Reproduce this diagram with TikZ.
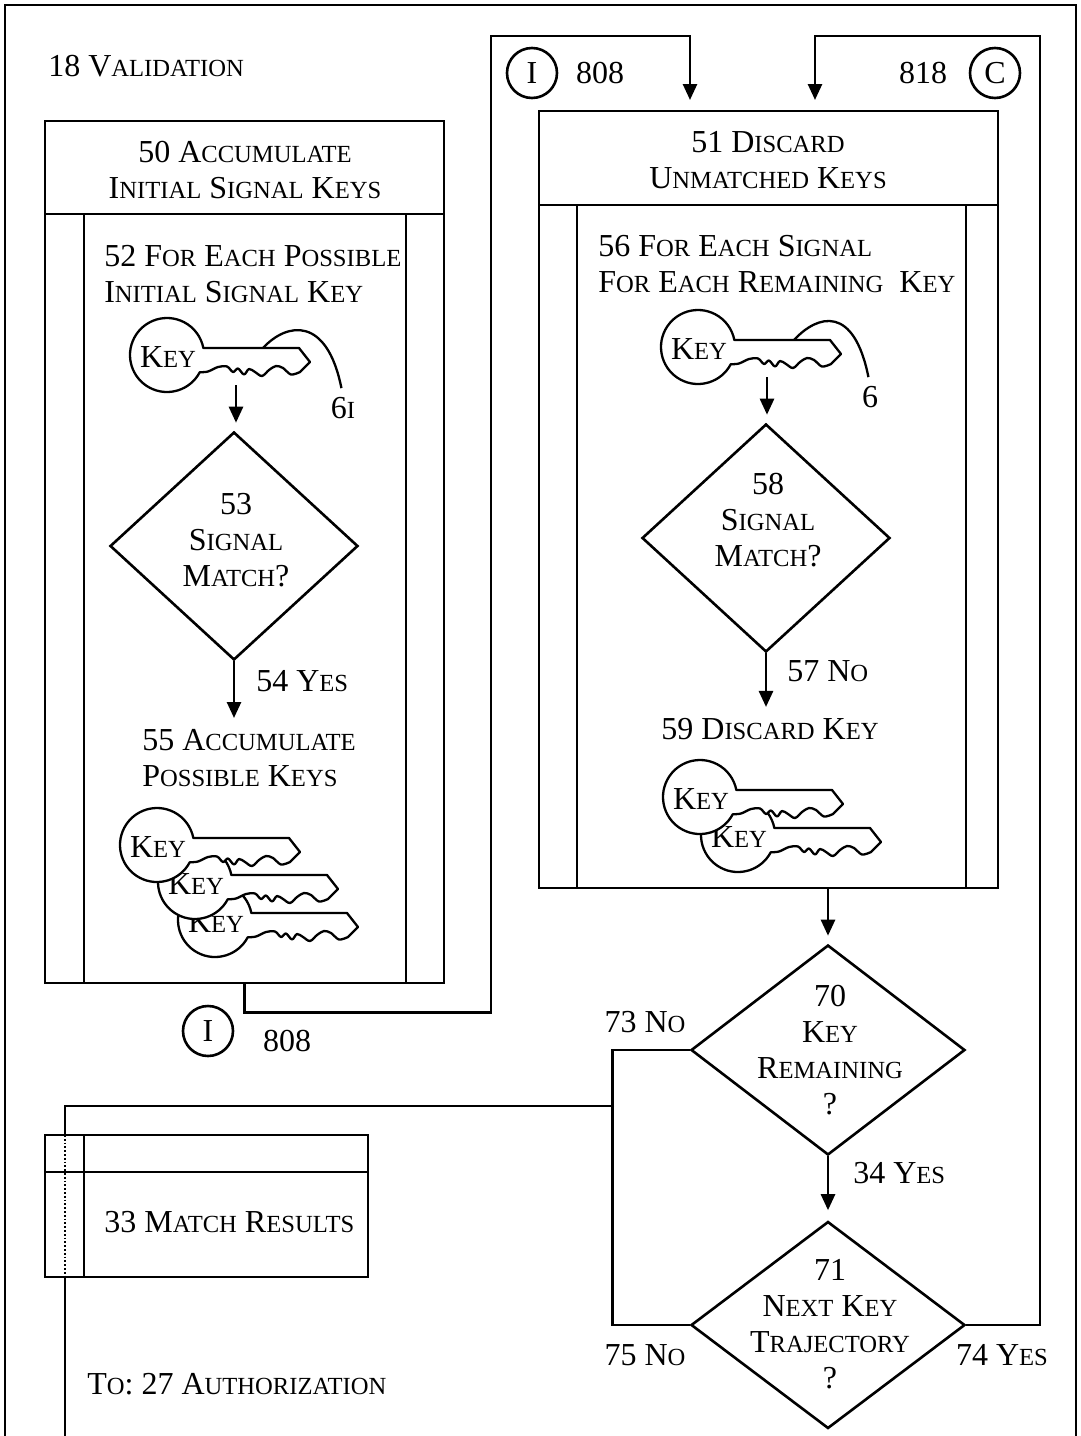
\documentclass[tikz,border=0pt]{standalone}
\usepackage{fontspec}
\setmainfont{Liberation Serif}
\usetikzlibrary{shapes.geometric,arrows.meta}
\newcommand\smc[1]{{\fontsize{12.3pt}{18pt}\selectfont #1}}
\tikzset{
 keyicon/.pic={
  \draw[fill=white, line width=1.15pt, line join=round] (36.33,-7) -- (132,-7) -- (143,7) -- (133,17)
   -- plot[smooth, tension=0.55] coordinates {(133,17) (124,19.5) (116,13) (109,11) (102,15) (95,21) (88,17) (82,14) (77,19.5) (71,13.5) (66,17) (60,11.5) (51,12) (41,16.5) (32.73,17.26)}
   arc[start angle=-27.8, end angle=-349.1, radius=18.5pt] -- cycle;
  \node (-t) at (1,2) {K\smc{EY}};
  \coordinate (-bot) at (69,30);
  \coordinate (-lead) at (96,-7);
 }
}
\begin{document}
\begin{tikzpicture}[x=0.5pt,y=-0.5pt, line width=1.3pt,
 font=\fontsize{16pt}{18pt}\selectfont,
 every node/.style={inner sep=0pt},
 box/.style={draw, rectangle, inner sep=0pt},
 dia/.style={draw, diamond, inner sep=0pt},
 conn/.style={draw, circle, minimum size=25pt, inner sep=0pt},
 arr/.style={-{Triangle[length=8pt,width=7pt]}},
]
\useasboundingbox (0,0) rectangle (1081,1436);
\draw (5,1436) -- (5,5) -- (1076,5) -- (1076,1436);

\node[anchor=west] (title) at (47,66) {18 V\smc{ALIDATION}};

% box 50
\node[box, minimum width=199.5pt, minimum height=431pt] (b50) at (244.5,552) {};
\draw (45,214) -- (444,214);
\draw (84,214) -- (84,983);
\draw (406,214) -- (406,983);
\node[align=center] (t50) at (245,170) {50 A\smc{CCUMULATE}\\I\smc{NITIAL} S\smc{IGNAL} K\smc{EYS}};
\node[align=left, anchor=north west] (t52) at (103,244) {52 F\smc{OR} E\smc{ACH} P\smc{OSSIBLE}\\I\smc{NITIAL} S\smc{IGNAL} K\smc{EY}};
\pic (k52) at (167,355) {keyicon};
\node (l52) at (343,408) {6\smc{I}};
\draw[line width=1.15pt, shorten >=4pt] (k52-lead) .. controls +(24,-26) and +(-16,-80) .. (l52.north);
\node[dia, minimum width=124pt, minimum height=114pt] (d53) at (234,546) {};
\node[align=center] (t53) at (236,540) {53\\S\smc{IGNAL}\\M\smc{ATCH}?};
\draw[arr, shorten >=4pt] (k52-bot) -- (k52-bot |- d53.north);
\node[align=left, anchor=north west] (t55) at (141,728) {55 A\smc{CCUMULATE}\\P\smc{OSSIBLE} K\smc{EYS}};
\draw[arr, shorten >=5pt] (d53.south) -- (d53.south |- t55.north);
\node[anchor=west] (y54) at (255,681) {54 Y\smc{ES}};
\pic (k55c) at (215,920) {keyicon};
\pic (k55b) at (195,882) {keyicon};
\pic (k55a) at (157,845) {keyicon};

% box 51
\node[box, minimum width=229.5pt, minimum height=388.5pt] (b51) at (768.5,499.5) {};
\draw (539,205) -- (998,205);
\draw (577,205) -- (577,888);
\draw (966,205) -- (966,888);
\node[align=center] (t51) at (768,160) {51 D\smc{ISCARD}\\U\smc{NMATCHED} K\smc{EYS}};
\node[align=left, anchor=north west] (t56) at (597,234) {56 F\smc{OR} E\smc{ACH} S\smc{IGNAL}\\F\smc{OR} E\smc{ACH} R\smc{EMAINING}\ \ K\smc{EY}};
\pic (k56) at (698,347) {keyicon};
\node (l56) at (870,397) {6};
\draw[line width=1.15pt, shorten >=4pt] (k56-lead) .. controls +(24,-26) and +(-16,-80) .. (l56.north);
\node[dia, minimum width=124pt, minimum height=114pt] (d58) at (766,538) {};
\node[align=center] (t58) at (768,520) {58\\S\smc{IGNAL}\\M\smc{ATCH}?};
\draw[arr, shorten >=4pt] (k56-bot) -- (k56-bot |- d58.north);
\node (t59) at (770,729) {59 D\smc{ISCARD} K\smc{EY}};
\draw[arr, shorten >=5pt] (d58.south) -- (d58.south |- t59.north);
\node[anchor=west] (n57) at (786,671) {57 N\smc{O}};
\pic (k59b) at (738,835) {keyicon};
\pic (k59a) at (700,797) {keyicon};

% connectors top
\node[conn] (cI1) at (532,73) {I};
\node (n808a) at (600,73) {808};
\node[conn] (cC) at (995,73) {C};
\node (n818) at (923,73) {818};
\coordinate (a808) at (690,100);
\coordinate (a818) at (815,100);
\node[conn] (cI2) at (208,1031) {I};
\node (n808b) at (287,1041) {808};
\draw[arr] (b50.south) -- ++(0,28) -| (491,36) -| (a808);

% decisions
\node[dia, minimum width=137pt, minimum height=105pt] (d70) at (828,1050) {};
\node[align=center] (t70) at (830,1050) {70\\K\smc{EY}\\R\smc{EMAINING}\\?};
\node[dia, minimum width=137pt, minimum height=103.5pt] (d71) at (828,1325) {};
\node[align=center] (t71) at (830,1324) {71\\N\smc{EXT} K\smc{EY}\\T\smc{RAJECTORY}\\?};
\draw[arr, shorten >=4pt] (b51.south -| d70.north) -- (d70.north);
\draw[arr, shorten >=5pt] (d70.south) -- (d71.north);
\node[anchor=west] (n34) at (852,1173) {34 Y\smc{ES}};
\draw (d70.west) -- ++(-77,0) coordinate (jt) |- (d71.west);
\draw[arr] (d71.east) -| (1040,36) -| (a818);
\node (n73) at (645,1022) {73 N\smc{O}};
\node (n75) at (645,1355) {75 N\smc{O}};
\node (n74) at (1002,1355) {74 Y\smc{ES}};

% box 33
\node[box, minimum width=161.5pt, minimum height=71pt] (b33) at (206.5,1206) {};
\draw (45,1172) -- (368,1172);
\draw (84,1135) -- (84,1277);
\node[anchor=west] (t33) at (103,1222) {33 M\smc{ATCH} R\smc{ESULTS}};
\coordinate (j) at (614,1106);
\coordinate (p1) at (65,1106);
\coordinate (p2) at (65,1135);
\coordinate (p3) at (65,1277);
\coordinate (p4) at (65,1436);
\draw (j) -- (p1) -- (p2);
\draw[densely dotted, line width=0.9pt] (p2) -- (p3);
\draw (p3) -- (p4);
\node[anchor=west] (t27) at (86,1384) {T\smc{O}: 27 A\smc{UTHORIZATION}};
\end{tikzpicture}
\end{document}
